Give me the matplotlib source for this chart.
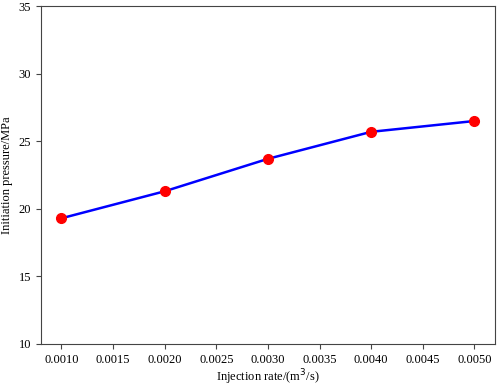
import matplotlib.pyplot as plt

plt.rcParams['font.family'] = ['Liberation Serif', 'DejaVu Serif']

rate = [0.0010, 0.0020, 0.0030, 0.0040, 0.0050]
pressure = [19.3, 21.3, 23.7, 25.7, 26.5]

fig = plt.figure(figsize=(4.98, 3.86), dpi=100)
ax = fig.add_axes([0.082, 0.109, 0.912, 0.875])

ax.plot(rate, pressure, color='blue', linewidth=1.8, zorder=2)
ax.plot(rate, pressure, 'o', color='red', markersize=7, zorder=3)

ax.set_ylim(10, 35)
ax.set_xticks([0.0010, 0.0015, 0.0020, 0.0025, 0.0030, 0.0035, 0.0040, 0.0045, 0.0050])
ax.set_xticklabels(['%.4f' % v for v in ax.get_xticks()])
ax.tick_params(labelsize=9, color='#444444')
for s in ax.spines.values():
    s.set_color('#444444')

ax.set_xlabel('Injection rate/(m$^3$/s)', fontsize=9, labelpad=1)
ax.set_ylabel('Initiation pressure/MPa', fontsize=9, labelpad=4)

fig.savefig('out.png', dpi=100)
